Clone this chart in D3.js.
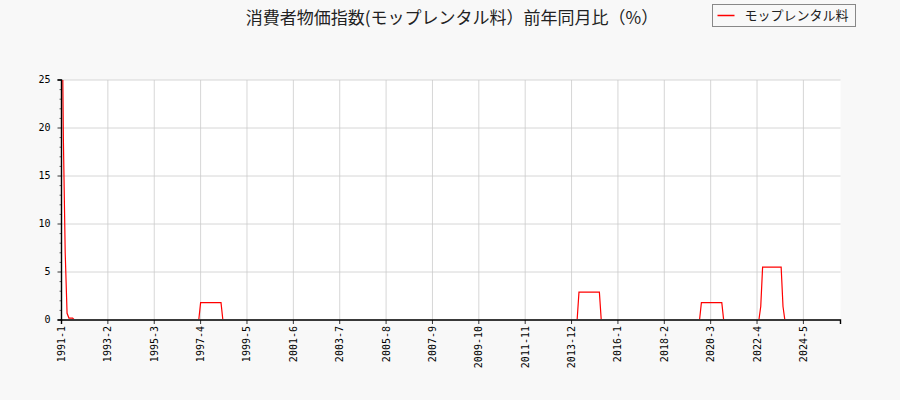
<!DOCTYPE html>
<html>
<head>
<meta charset="utf-8">
<script src="https://cdn.jsdelivr.net/npm/d3@7"></script>
<style>
  body { margin: 0; background: #f8f8f8; }
  svg { display: block; }
</style>
</head>
<body>
<svg id="chart" width="900" height="400"></svg>
<script>
// 消費者物価指数（モップレンタル料）前年同月比 - monthly, 1991-1 onwards
const startYear = 1991;
const seriesName = "モップレンタル料";
const chartTitle = "消費者物価指数(モップレンタル料）前年同月比（%）";

// one row per year, Jan..Dec
const values1991 = [40, 19, 7, 0.7, 0.2, 0.2, 0.2, 0, 0, 0, 0, 0];
const values1992to1996 = [
  0,0,0,0,0,0,0,0,0,0,0,0,
  0,0,0,0,0,0,0,0,0,0,0,0,
  0,0,0,0,0,0,0,0,0,0,0,0,
  0,0,0,0,0,0,0,0,0,0,0,0,
  0,0,0,0,0,0,0,0,0,0,0,0
];
const values1997to1998 = [
  0,0,0,1.8,1.8,1.8,1.8,1.8,1.8,1.8,1.8,1.8,
  1.8,1.8,1.8,0,0,0,0,0,0,0,0,0
];
const values1999to2013 = [
  0,0,0,0,0,0,0,0,0,0,0,0,
  0,0,0,0,0,0,0,0,0,0,0,0,
  0,0,0,0,0,0,0,0,0,0,0,0,
  0,0,0,0,0,0,0,0,0,0,0,0,
  0,0,0,0,0,0,0,0,0,0,0,0,
  0,0,0,0,0,0,0,0,0,0,0,0,
  0,0,0,0,0,0,0,0,0,0,0,0,
  0,0,0,0,0,0,0,0,0,0,0,0,
  0,0,0,0,0,0,0,0,0,0,0,0,
  0,0,0,0,0,0,0,0,0,0,0,0,
  0,0,0,0,0,0,0,0,0,0,0,0,
  0,0,0,0,0,0,0,0,0,0,0,0,
  0,0,0,0,0,0,0,0,0,0,0,0,
  0,0,0,0,0,0,0,0,0,0,0,0,
  0,0,0,0,0,0,0,0,0,0,0,0
];
const values2014to2015 = [
  0,0,0,2.9,2.9,2.9,2.9,2.9,2.9,2.9,2.9,2.9,
  2.9,2.9,2.9,0,0,0,0,0,0,0,0,0
];
const values2016to2018 = [
  0,0,0,0,0,0,0,0,0,0,0,0,
  0,0,0,0,0,0,0,0,0,0,0,0,
  0,0,0,0,0,0,0,0,0,0,0,0
];
const values2019to2021 = [
  0,0,0,0,0,0,0,0,0,1.8,1.8,1.8,
  1.8,1.8,1.8,1.8,1.8,1.8,1.8,1.8,1.8,0,0,0,
  0,0,0,0,0,0,0,0,0,0,0,0
];
const values2022to2025 = [
  0,0,0,0,0,1.4,5.5,5.5,5.5,5.5,5.5,5.5,
  5.5,5.5,5.5,5.5,5.5,1.4,0,0,0,0,0,0,
  0,0,0,0,0,0,0,0,0,0,0,0,
  0,0,0,0,0
];

const values = [].concat(values1991, values1992to1996, values1997to1998,
  values1999to2013, values2014to2015, values2016to2018, values2019to2021, values2022to2025);

// x tick labels, one every 25 months
const tickLabels = ["1991-1","1993-2","1995-3","1997-4","1999-5","2001-6","2003-7","2005-8",
  "2007-9","2009-10","2011-11","2013-12","2016-1","2018-2","2020-3","2022-4","2024-5"];
const tickStep = 25;
const yTicks = [0, 5, 10, 15, 20, 25];

const margin = {top: 80, right: 59.5, bottom: 80, left: 61.5};
const width = 900, height = 400;

const svg = d3.select("#chart");

// figure background
svg.append("rect").attr("width", width).attr("height", height).attr("fill", "#f8f8f8");

// plot area
svg.append("rect")
  .attr("x", margin.left).attr("y", margin.top)
  .attr("width", width - margin.left - margin.right)
  .attr("height", height - margin.top - margin.bottom)
  .attr("fill", "#ffffff");

const x = d3.scaleLinear()
  .domain([0, 420])
  .range([margin.left, width - margin.right]);

const y = d3.scaleLinear()
  .domain([0, 25])
  .range([height - margin.bottom, margin.top]);

const tickIdx = tickLabels.map((d, i) => i * tickStep);

// grid lines
svg.append("g")
  .selectAll("line")
  .data(tickIdx)
  .enter().append("line")
  .attr("x1", d => x(d)).attr("x2", d => x(d))
  .attr("y1", margin.top).attr("y2", height - margin.bottom)
  .attr("stroke", "#cccccc").attr("stroke-width", 0.8);

svg.append("g")
  .selectAll("line")
  .data(yTicks)
  .enter().append("line")
  .attr("x1", margin.left).attr("x2", width - margin.right)
  .attr("y1", d => y(d)).attr("y2", d => y(d))
  .attr("stroke", "#cccccc").attr("stroke-width", 0.8);

// clip the line to the plot area (zero line sits under the bottom spine)
svg.append("clipPath").attr("id", "plot-clip")
  .append("rect")
  .attr("x", margin.left).attr("y", margin.top)
  .attr("width", width - margin.left - margin.right)
  .attr("height", height - margin.top - margin.bottom - 1);

const line = d3.line()
  .x((d, i) => x(i))
  .y(d => y(d));

svg.append("path")
  .datum(values)
  .attr("clip-path", "url(#plot-clip)")
  .attr("d", line)
  .attr("fill", "none")
  .attr("stroke", "#ff0000")
  .attr("stroke-width", 1.2);

// axes
const xAxis = d3.axisBottom(x)
  .tickValues(tickIdx)
  .tickFormat((d, i) => tickLabels[i])
  .tickSizeOuter(0)
  .tickSize(4)
  .offset(0);

const gx = svg.append("g")
  .attr("transform", `translate(0, ${height - margin.bottom})`)
  .call(xAxis);
gx.selectAll("text")
  .attr("transform", "rotate(-90)")
  .attr("text-anchor", "end")
  .attr("x", -6).attr("y", 0).attr("dy", "0.35em");

const yAxis = d3.axisLeft(y)
  .tickValues(yTicks)
  .tickSizeOuter(0)
  .tickSize(4)
  .tickPadding(7)
  .offset(0);

const gy = svg.append("g")
  .attr("transform", `translate(${margin.left}, 0)`)
  .call(yAxis);

// minor ticks on y
svg.append("g")
  .selectAll("line")
  .data(d3.range(0, 26).filter(d => d % 5 !== 0))
  .enter().append("line")
  .attr("x1", margin.left - 2).attr("x2", margin.left)
  .attr("y1", d => y(d)).attr("y2", d => y(d))
  .attr("stroke", "#000").attr("stroke-width", 0.6);

[gx, gy].forEach(g => {
  g.attr("font-family", null).attr("font-size", null);
  g.selectAll("text")
    .style("font-family", "'DejaVu Sans Mono', monospace")
    .style("font-size", "10px")
    .attr("fill", "#000");
  g.selectAll("line").attr("stroke", "#000").attr("stroke-width", 0.8);
  g.select(".domain").attr("stroke", "#000").attr("stroke-width", 1.4);
});

// title
svg.append("text")
  .attr("x", 452)
  .attr("y", 24)
  .attr("text-anchor", "middle")
  .style("font-family", "'Noto Sans CJK JP', sans-serif")
  .style("font-size", "17px")
  .attr("fill", "#222")
  .text(chartTitle);

// legend
const legend = svg.append("g").attr("transform", "translate(712.5, 4.5)");
legend.append("rect")
  .attr("width", 143).attr("height", 22)
  .attr("fill", "#f8f8f8")
  .attr("stroke", "#888").attr("stroke-width", 1);
legend.append("line")
  .attr("x1", 5).attr("x2", 22).attr("y1", 11).attr("y2", 11)
  .attr("stroke", "#ff0000").attr("stroke-width", 1.5);
legend.append("text")
  .attr("x", 32).attr("y", 15.5)
  .style("font-family", "'Noto Sans CJK JP', sans-serif")
  .style("font-size", "13px")
  .attr("fill", "#222")
  .text(seriesName);
</script>
</body>
</html>
